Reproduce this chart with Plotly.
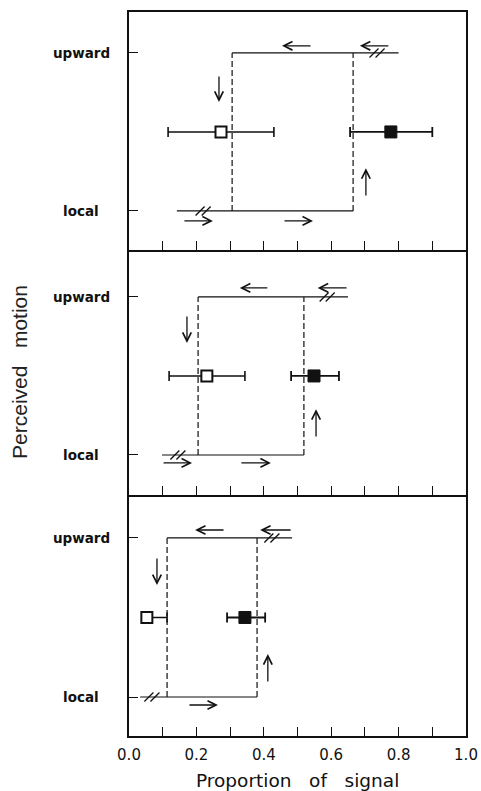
import plotly.graph_objects as go

# ---------------- data ----------------
LEVEL_NAMES = ["local", "upward"]          # y = 0, y = 1
X_TICK_VALUES = [0.0, 0.1, 0.2, 0.3, 0.4, 0.5, 0.6, 0.7, 0.8, 0.9, 1.0]
X_TICK_TEXT = ["0.0", "", "0.2", "", "0.4", "", "0.6", "", "0.8", "", "1.0"]

# hysteresis loop per panel (top, middle, bottom)
DOWN_SWITCH = [0.306, 0.205, 0.113]        # left dashed line (upward -> local)
UP_SWITCH = [0.665, 0.519, 0.380]          # right dashed line (local -> upward)
UPPER_END = [0.800, 0.650, 0.484]          # right end of the "upward" branch
LOWER_END = [0.142, 0.098, 0.033]          # left end of the "local" branch
UPPER_BREAK = [0.736, 0.588, 0.424]
LOWER_BREAK = [0.220, 0.145, 0.068]

# mean switch points with error bars
MEAN_LEVEL = [0.5, 0.5, 0.5]
OPEN_MEAN = [0.273, 0.231, 0.053]
OPEN_MINUS = [0.157, 0.112, 0.0]
OPEN_PLUS = [0.157, 0.113, 0.060]
FILLED_MEAN = [0.777, 0.549, 0.344]
FILLED_MINUS = [0.121, 0.068, 0.053]
FILLED_PLUS = [0.123, 0.074, 0.060]

# direction arrows: panel index, tail (x0, y0) -> head (x1, y1)
ARROW_PANEL = [0, 0, 0, 0, 0, 0, 1, 1, 1, 1, 1, 1, 2, 2, 2, 2, 2]
ARROW_X0 = [0.543, 0.774, 0.267, 0.703, 0.160, 0.457,
            0.415, 0.650, 0.172, 0.555, 0.098, 0.329,
            0.285, 0.484, 0.083, 0.412, 0.175]
ARROW_Y0 = [1.045, 1.045, 0.860, 0.089, -0.063, -0.063,
            1.057, 1.057, 0.886, 0.108, -0.050, -0.050,
            1.050, 1.050, 0.880, 0.088, -0.050]
ARROW_X1 = [0.454, 0.685, 0.267, 0.703, 0.249, 0.546,
            0.329, 0.560, 0.172, 0.555, 0.187, 0.421,
            0.196, 0.389, 0.083, 0.412, 0.264]
ARROW_Y1 = [1.045, 1.045, 0.690, 0.270, -0.063, -0.063,
            1.057, 1.057, 0.709, 0.290, -0.050, -0.050,
            1.050, 1.050, 0.704, 0.270, -0.050]

# ---------------- layout helpers ----------------
Y_RANGES = [[-0.247, 1.259], [-0.253, 1.297], [-0.245, 1.270]]
Y_DOMAINS = [[0.6713, 1.0], [0.3329, 0.6713], [0.0, 0.3329]]
INK = "#111111"
SLASH_GAP = 0.009   # half distance between the two strokes of a break mark

fig = go.Figure()
annotations = []

for i in range(3):
    xa = "x" if i == 0 else f"x{i+1}"
    ya = "y" if i == 0 else f"y{i+1}"
    line = dict(color=INK, width=1.2)
    # branches
    fig.add_trace(go.Scatter(x=[DOWN_SWITCH[i], UPPER_END[i]], y=[1, 1], mode="lines",
                             line=line, xaxis=xa, yaxis=ya, showlegend=False, hoverinfo="skip"))
    fig.add_trace(go.Scatter(x=[LOWER_END[i], UP_SWITCH[i]], y=[0, 0], mode="lines",
                             line=line, xaxis=xa, yaxis=ya, showlegend=False, hoverinfo="skip"))
    # dashed transitions
    for xv in (DOWN_SWITCH[i], UP_SWITCH[i]):
        fig.add_trace(go.Scatter(x=[xv, xv], y=[0, 1], mode="lines",
                                 line=dict(color=INK, width=1.2, dash="6px,3px"),
                                 xaxis=xa, yaxis=ya, showlegend=False, hoverinfo="skip"))
    # break marks (two slanted strokes)
    bx = [UPPER_BREAK[i] - SLASH_GAP, UPPER_BREAK[i] + SLASH_GAP,
          LOWER_BREAK[i] - SLASH_GAP, LOWER_BREAK[i] + SLASH_GAP]
    fig.add_trace(go.Scatter(x=bx, y=[1, 1, 0, 0], mode="markers",
                             marker=dict(symbol="line-ne", size=9,
                                         line=dict(color=INK, width=1.3)),
                             xaxis=xa, yaxis=ya, showlegend=False, hoverinfo="skip"))
    # open square
    fig.add_trace(go.Scatter(x=[OPEN_MEAN[i]], y=[MEAN_LEVEL[i]], mode="markers",
                             marker=dict(symbol="square", size=11, color="white",
                                         line=dict(color=INK, width=2)),
                             error_x=dict(type="data", symmetric=False, array=[OPEN_PLUS[i]],
                                          arrayminus=[OPEN_MINUS[i]], color=INK,
                                          thickness=1.6, width=5),
                             xaxis=xa, yaxis=ya, showlegend=False))
    # filled square
    fig.add_trace(go.Scatter(x=[FILLED_MEAN[i]], y=[MEAN_LEVEL[i]], mode="markers",
                             marker=dict(symbol="square", size=12, color=INK,
                                         line=dict(color=INK, width=1)),
                             error_x=dict(type="data", symmetric=False, array=[FILLED_PLUS[i]],
                                          arrayminus=[FILLED_MINUS[i]], color=INK,
                                          thickness=1.8, width=5),
                             xaxis=xa, yaxis=ya, showlegend=False))
    # level labels
    for lv, name in enumerate(LEVEL_NAMES):
        annotations.append(dict(x=-0.1424, y=lv, xref="paper", yref=ya, text=name,
                                showarrow=False, xanchor="center", yanchor="middle",
                                font=dict(family="DejaVu Sans", size=13.5, color=INK,
                                          weight="bold")))

for k in range(len(ARROW_PANEL)):
    p = ARROW_PANEL[k]
    xa = "x" if p == 0 else f"x{p+1}"
    ya = "y" if p == 0 else f"y{p+1}"
    annotations.append(dict(x=ARROW_X1[k], y=ARROW_Y1[k], ax=ARROW_X0[k], ay=ARROW_Y0[k],
                            xref=xa, yref=ya, axref=xa, ayref=ya, text="", showarrow=True,
                            arrowhead=5, arrowsize=1.3, arrowwidth=1.3, arrowcolor=INK))

# axis titles
annotations.append(dict(x=-0.323, y=0.503, xref="paper", yref="paper",
                        text="Perceived   motion", textangle=-90, showarrow=False,
                        xanchor="center", yanchor="middle",
                        font=dict(family="Liberation Sans", size=21, color="#222222")))
annotations.append(dict(x=0.5, y=-0.062, xref="paper", yref="paper",
                        text="Proportion   of   signal", showarrow=False,
                        xanchor="center", yanchor="middle",
                        font=dict(family="DejaVu Sans", size=18.5, color=INK)))

layout = dict(width=481, height=791, paper_bgcolor="white", plot_bgcolor="white",
              margin=dict(l=129, r=15, t=12, b=55, autoexpand=False),
              annotations=annotations, showlegend=False)

for i in range(3):
    xkey = "xaxis" if i == 0 else f"xaxis{i+1}"
    ykey = "yaxis" if i == 0 else f"yaxis{i+1}"
    ya = "y" if i == 0 else f"y{i+1}"
    xa = "x" if i == 0 else f"x{i+1}"
    layout[xkey] = dict(domain=[0, 1], range=[0, 1], anchor=ya, showgrid=False, zeroline=False,
                        showline=True, mirror=(i == 0), linecolor=INK, linewidth=1.8,
                        ticks="inside", ticklen=9, tickwidth=1.2, tickcolor=INK,
                        tickvals=X_TICK_VALUES, ticktext=X_TICK_TEXT,
                        showticklabels=(i == 2), ticklabelstandoff=4,
                        tickfont=dict(family="DejaVu Sans", size=15, color=INK))
    layout[ykey] = dict(domain=Y_DOMAINS[i], range=Y_RANGES[i], anchor=xa, showgrid=False,
                        zeroline=False, showline=True, mirror=True, linecolor=INK,
                        linewidth=1.8, ticks="inside", ticklen=9, tickwidth=1.2,
                        tickcolor=INK, tickvals=[0, 1], showticklabels=False)

fig.update_layout(**layout)
fig.write_html("out.html", config={"displayModeBar": False},
               post_script="document.body.style.margin='0';")
